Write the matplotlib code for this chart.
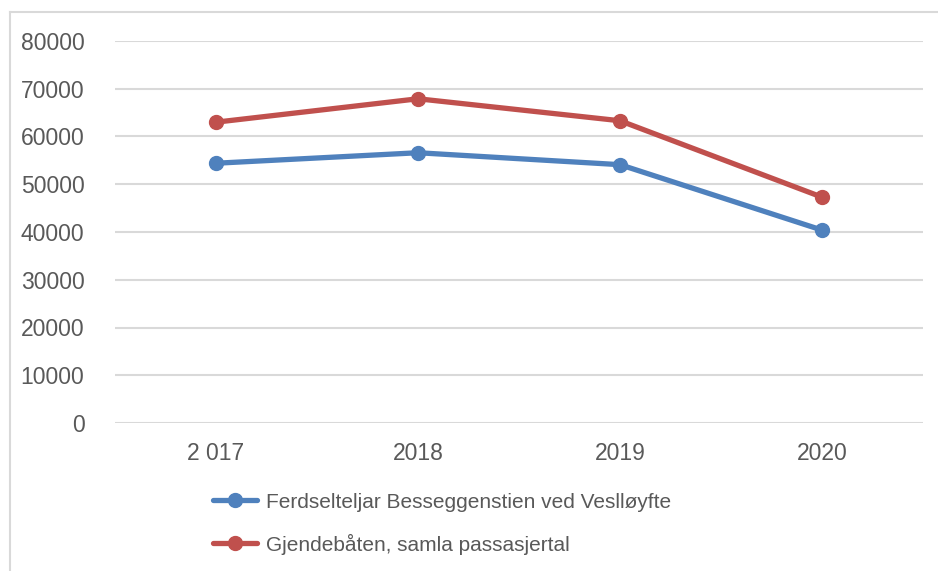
import matplotlib.pyplot as plt
from matplotlib.lines import Line2D

# Data
years = ['2 017', '2018', '2019', '2020']
besseggen = [54400, 56600, 54100, 40400]
gjendebaten = [63000, 67900, 63300, 47300]
yticks = [0, 10000, 20000, 30000, 40000, 50000, 60000, 70000, 80000]

plt.rcParams['font.family'] = ['Liberation Sans', 'DejaVu Sans']
txt = '#595959'
grid = '#d9d9d9'

fig = plt.figure(figsize=(9.38, 5.71), dpi=100)
W, H = 938, 571
ax = fig.add_axes([115 / W, 1 - 423 / H, 808 / W, 382 / H])

x = range(len(years))
ax.plot(x, besseggen, color='#4f81bd', lw=3.8, marker='o', ms=10,
        label='Ferdselteljar Besseggenstien ved Veslløyfte', solid_capstyle='round')
ax.plot(x, gjendebaten, color='#c0504d', lw=3.8, marker='o', ms=10,
        label='Gjendebåten, samla passasjertal', solid_capstyle='round')

ax.set_xlim(-0.5, 3.5)
ax.set_ylim(0, 80000)
ax.set_yticks(yticks)
ax.set_yticklabels([str(v) for v in yticks])
ax.set_xticks(list(x))
ax.set_xticklabels(years)
ax.grid(axis='y', color=grid, lw=1.5)
ax.set_axisbelow(True)
for s in ax.spines.values():
    s.set_visible(False)
ax.tick_params(axis='both', length=0, labelsize=16.5, colors=txt)
ax.tick_params(axis='y', pad=22)
ax.tick_params(axis='x', pad=14)

# chart border (cropped on right and bottom)
fig.add_artist(Line2D([10 / W, 10 / W], [0, 1 - 12 / H], color=grid, lw=1.5))
fig.add_artist(Line2D([10 / W, 1], [1 - 12 / H, 1 - 12 / H], color=grid, lw=1.5))

leg = fig.legend(loc='upper left', bbox_to_anchor=(194 / W, 1 - 474 / H),
                 frameon=False, fontsize=15, handlelength=2.1,
                 handletextpad=0.45, labelspacing=1.05)
for t in leg.get_texts():
    t.set_color(txt)

fig.savefig('out.png', dpi=100)
